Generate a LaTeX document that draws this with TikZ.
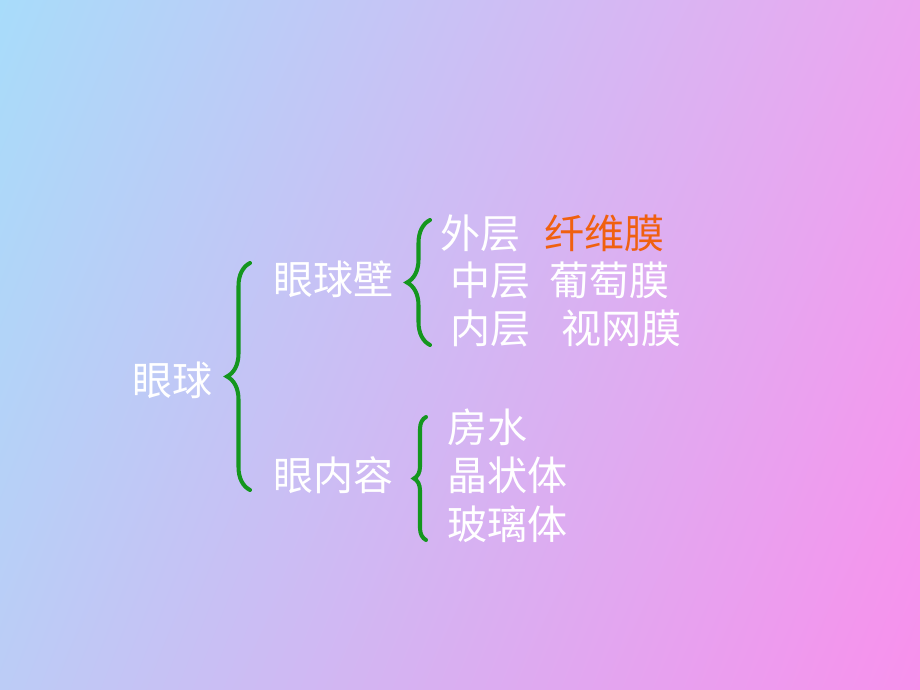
\documentclass[tikz,border=0pt]{standalone}
\usepackage{fontspec}
\newfontfamily\cjk{Noto Sans CJK SC}
\usepackage{tikz}
\usetikzlibrary{positioning}
\usetikzlibrary{shadings}
\usetikzlibrary{decorations.pathreplacing}

\definecolor{bgtl}{RGB}{168,220,250}
\definecolor{bgtr}{RGB}{236,166,240}
\definecolor{bgbl}{RGB}{188,204,246}
\definecolor{bgbr}{RGB}{248,144,236}
\definecolor{bracegreen}{RGB}{20,150,30}
\definecolor{fiberorange}{RGB}{240,96,16}

\begin{document}
\begin{tikzpicture}[x=0.02cm,y=-0.02cm,
  term/.style={text=white,font=\cjk\fontsize{22.8}{27}\selectfont,inner sep=0pt,anchor=west},
  brc/.style={draw=bracegreen,line width=2.3pt,line cap=round,decorate,decoration={brace,amplitude=#1}}]
\useasboundingbox (0,0) rectangle (920,690);
\shade[upper left=bgtl,upper right=bgtr,lower left=bgbl,lower right=bgbr] (0,0) rectangle (920,690);

\node[term,name=eye] at (132,380){眼球};
\node[term,name=wall] at (273,279){眼球壁};
\node[term,name=content] at (273,475){眼内容};
\node[term,name=outer] at (440,233){外层};
\node[term,name=middle] at (450,280){中层};
\node[term,name=inner] at (450,328){内层};
\node[term,name=fiber,right=0.46cm of outer,text=fiberorange]{纤维膜};
\node[term,name=uvea,right=0.36cm of middle]{葡萄膜};
\node[term,name=retina,right=0.6cm of inner]{视网膜};
\node[term,name=aqueous] at (447,427){房水};
\node[term,name=lens] at (447,475){晶状体};
\node[term,name=vitreous] at (447,524){玻璃体};

\coordinate (eye_top) at (250,263);
\coordinate (eye_bot) at (250,490);
\coordinate (wall_top) at (430,220);
\coordinate (wall_bot) at (430,345);
\coordinate (content_top) at (426,417);
\coordinate (content_bot) at (426,540);

\draw[brc=0.46cm](eye_bot) -- (eye_top);
\draw[brc=0.46cm](wall_bot) -- (wall_top);
\draw[brc=0.24cm](content_bot) -- (content_top);
\end{tikzpicture}
\end{document}
